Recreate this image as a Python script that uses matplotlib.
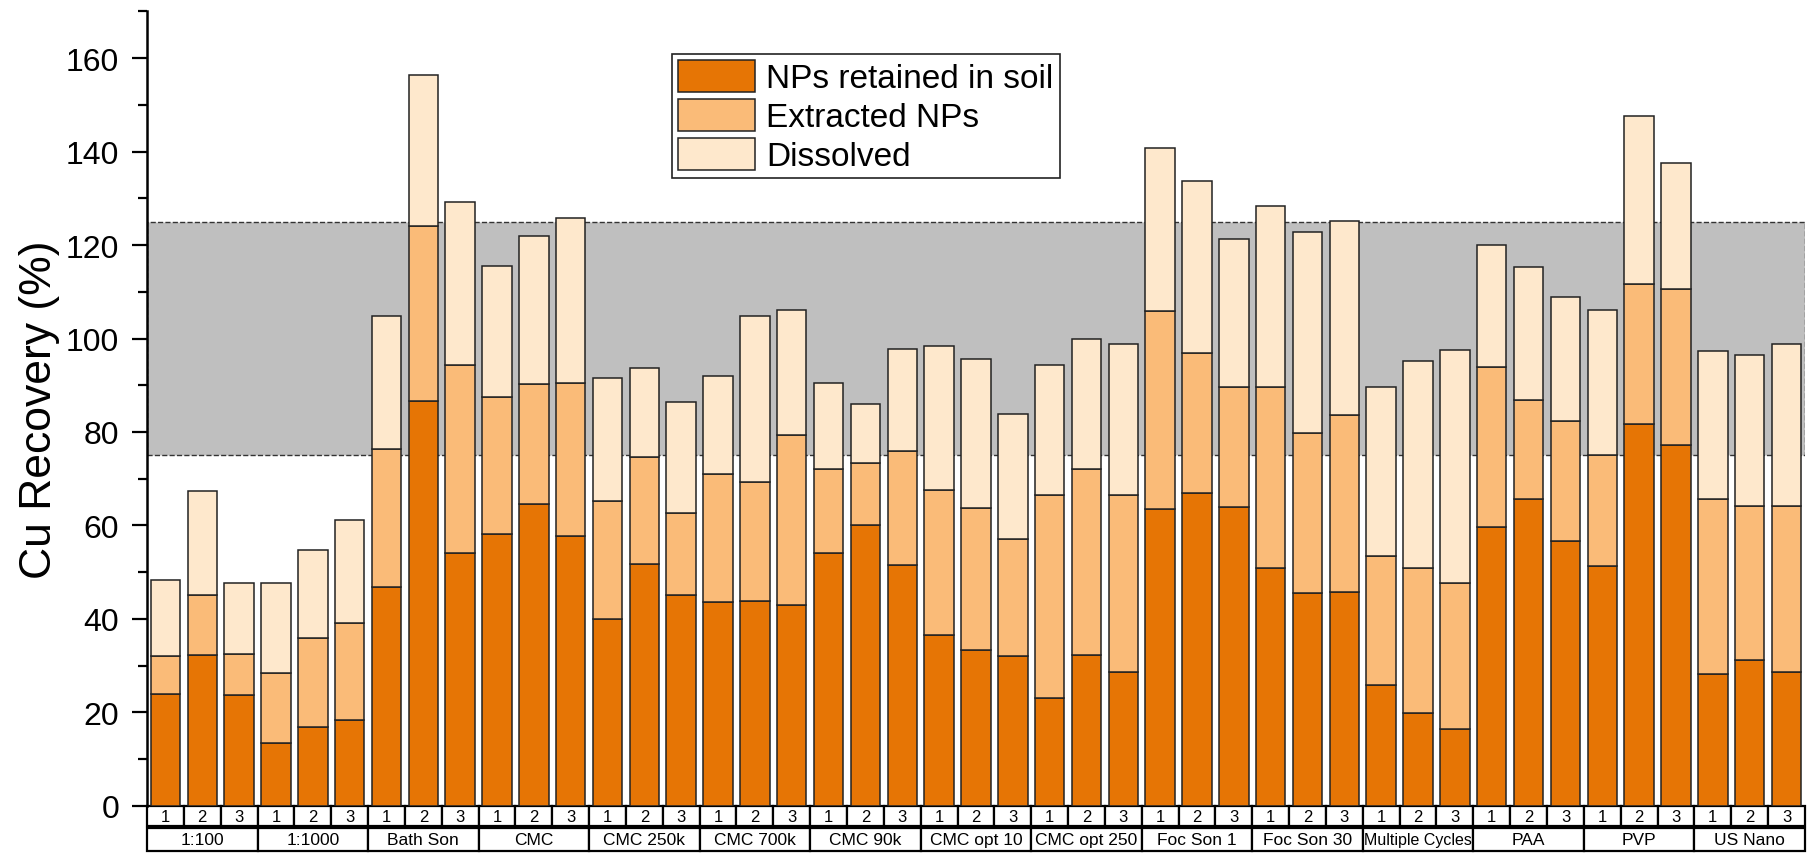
import numpy as np
import matplotlib.pyplot as plt
from matplotlib.patches import Rectangle
from matplotlib.ticker import MultipleLocator

plt.rcParams['font.family'] = ['Liberation Sans', 'DejaVu Sans']

groups = ['1:100', '1:1000', 'Bath Son', 'CMC', 'CMC 250k', 'CMC 700k', 'CMC 90k',
          'CMC opt 10', 'CMC opt 250', 'Foc Son 1', 'Foc Son 30', 'Multiple Cycles',
          'PAA', 'PVP', 'US Nano']
reps = ['1', '2', '3']

# segment heights (%), 3 replicates per group
retained = [24.0, 32.3, 23.6, 13.4, 16.8, 18.4, 46.9, 86.6, 54.0, 58.1, 64.5, 57.7,
            39.9, 51.7, 45.0, 43.7, 43.8, 42.9, 54.1, 60.1, 51.6, 36.6, 33.4, 32.1,
            23.0, 32.3, 28.7, 63.5, 66.9, 64.0, 50.9, 45.5, 45.7, 25.8, 19.9, 16.5,
            59.6, 65.7, 56.6, 51.4, 81.7, 77.2, 28.1, 31.2, 28.6]
extracted = [8.0, 12.7, 8.8, 15.1, 19.1, 20.6, 29.5, 37.4, 40.4, 29.4, 25.8, 32.7,
             25.3, 23.0, 17.7, 27.3, 25.4, 36.5, 18.0, 13.3, 24.4, 30.9, 30.3, 24.9,
             43.4, 39.8, 37.8, 42.4, 29.9, 25.6, 38.7, 34.3, 37.9, 27.6, 30.9, 31.2,
             34.4, 21.2, 25.8, 23.6, 30.0, 33.4, 37.6, 33.0, 35.6]
dissolved = [16.3, 22.3, 15.3, 19.2, 18.8, 22.2, 28.5, 32.3, 34.9, 28.0, 31.6, 35.4,
             26.4, 18.9, 23.7, 21.0, 35.6, 26.7, 18.3, 12.5, 21.8, 31.0, 32.0, 26.8,
             28.0, 27.8, 32.3, 34.8, 37.0, 31.8, 38.8, 43.0, 41.5, 36.3, 44.3, 49.8,
             26.1, 28.4, 26.5, 31.1, 36.0, 26.9, 31.7, 32.3, 34.6]

c_ret = '#e67505'
c_ext = '#fabb78'
c_dis = '#fee8cc'

fig = plt.figure(figsize=(18.08, 8.54), dpi=100)
ax = fig.add_axes([0.0813, 0.0554, 0.917, 0.930])

x = np.arange(len(retained))
r = np.array(retained)
e = np.array(extracted)
d = np.array(dissolved)

# acceptable recovery band
ax.axhspan(75, 125, facecolor='#bfbfbf', edgecolor='#333333', ls='--', lw=1, zorder=1)

w = 0.8
ax.bar(x, r, w, color=c_ret, edgecolor='#222222', lw=1.1, zorder=2, label='NPs retained in soil')
ax.bar(x, e, w, bottom=r, color=c_ext, edgecolor='#222222', lw=1.1, zorder=2, label='Extracted NPs')
ax.bar(x, d, w, bottom=r + e, color=c_dis, edgecolor='#222222', lw=1.1, zorder=2, label='Dissolved')

ax.set_xlim(-0.5, len(x) - 0.5)
ax.set_ylim(0, 170)
ax.set_xticks([])
ax.yaxis.set_major_locator(MultipleLocator(20))
ax.yaxis.set_minor_locator(MultipleLocator(10))
ax.tick_params(axis='y', which='major', direction='out', length=11, width=1.6, labelsize=23, pad=9)
ax.tick_params(axis='y', which='minor', direction='out', length=6.5, width=1.6)
for s in ['top', 'right', 'bottom']:
    ax.spines[s].set_visible(False)
ax.spines['left'].set_linewidth(1.8)

ax.set_ylabel('Cu Recovery (%)', fontsize=32)
ax.yaxis.set_label_coords(-0.0525, 0.5)

# two-row category labels below the axis
trans = ax.get_xaxis_transform()
h1 = 0.026
for i in x:
    ax.add_patch(Rectangle((i - 0.5, -h1), 1, h1, transform=trans, clip_on=False,
                           fc='white', ec='black', lw=1.6))
    ax.text(i, -h1 / 2, reps[i % 3], transform=trans, ha='center', va='center', fontsize=12)
y2 = -0.0285
h2 = 0.0285
for g, name in enumerate(groups):
    ax.add_patch(Rectangle((3 * g - 0.5, y2 - h2), 3, h2, transform=trans, clip_on=False,
                           fc='white', ec='black', lw=1.6))
    fs = 11.5 if len(name) > 12 else 12.5
    ax.text(3 * g + 1, y2 - h2 / 2, name, transform=trans, ha='center', va='center', fontsize=fs)

leg = ax.legend(loc='upper left', bbox_to_anchor=(0.3167, 0.9465), borderaxespad=0,
                fontsize=24, fancybox=False, framealpha=1, edgecolor='#222222',
                handlelength=2.3, handleheight=1.1, labelspacing=0.14,
                handletextpad=0.35, borderpad=0.18)
leg.get_frame().set_linewidth(1.2)
leg.set_zorder(5)

fig.savefig('out.png', dpi=100)
